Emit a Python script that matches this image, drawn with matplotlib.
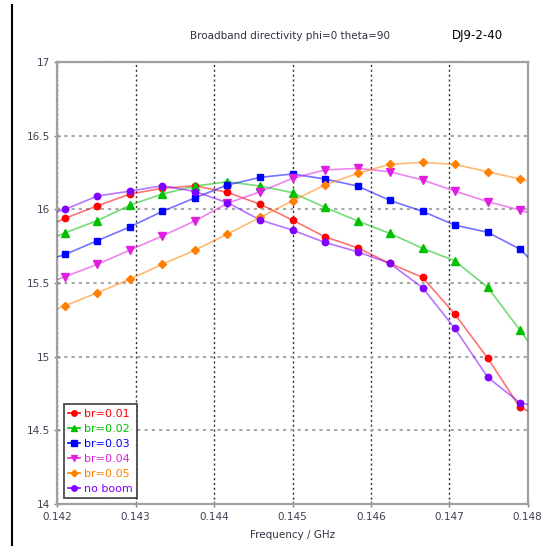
import matplotlib
matplotlib.use("Agg")
import matplotlib.pyplot as plt
from matplotlib.lines import Line2D

# Frequencies (GHz); first and last points lie just outside the visible range
freq = [0.14167, 0.1421, 0.14251, 0.14293, 0.14334, 0.14376, 0.14417, 0.14459,
        0.145, 0.14541, 0.14583, 0.14624, 0.14666, 0.14707, 0.14749, 0.1479, 0.14832]

br_001 = [15.84, 15.939, 16.024, 16.104, 16.143, 16.160, 16.115, 16.034, 15.927,
          15.814, 15.739, 15.633, 15.538, 15.289, 14.99, 14.656, 14.56]
br_002 = [15.75, 15.841, 15.923, 16.029, 16.104, 16.158, 16.187, 16.158, 16.113,
          16.014, 15.921, 15.837, 15.735, 15.651, 15.47, 15.181, 14.87]
br_003 = [15.62, 15.694, 15.787, 15.882, 15.986, 16.079, 16.165, 16.217, 16.240,
          16.206, 16.158, 16.061, 15.986, 15.893, 15.844, 15.730, 15.51]
br_004 = [15.46, 15.543, 15.627, 15.724, 15.819, 15.923, 16.041, 16.12, 16.21,
          16.267, 16.278, 16.255, 16.199, 16.124, 16.052, 15.995, 15.93]
br_005 = [15.26, 15.346, 15.434, 15.527, 15.627, 15.724, 15.832, 15.946, 16.058,
          16.165, 16.244, 16.305, 16.319, 16.305, 16.255, 16.206, 16.15]
no_boom = [15.93, 16.0, 16.09, 16.124, 16.16, 16.12, 16.045, 15.927, 15.859,
           15.776, 15.712, 15.633, 15.468, 15.192, 14.86, 14.687, 14.64]

labels = ["br=0.01", "br=0.02", "br=0.03", "br=0.04", "br=0.05", "no boom"]
series = [br_001, br_002, br_003, br_004, br_005, no_boom]
colors = ["#ff0000", "#00c000", "#0000ff", "#e020e0", "#ff8000", "#8000ff"]
markers = ["o", "^", "s", "v", "D", "o"]
msizes = [4.6, 5.6, 5.0, 5.6, 4.0, 4.6]

xticks = [0.142, 0.143, 0.144, 0.145, 0.146, 0.147, 0.148]
yticks = [14, 14.5, 15, 15.5, 16, 16.5, 17]

fig = plt.figure(figsize=(5.46, 5.5), dpi=100)
ax = fig.add_axes([0.105, 0.0836, 0.8615, 0.8037])

for y, c, m, ms in zip(series, colors, markers, msizes):
    ax.plot(freq, y, color=c, lw=1.2, alpha=0.55, zorder=3)
    ax.plot(freq, y, color=c, lw=0, marker=m, ms=ms, zorder=4)

ax.set_xlim(0.142, 0.148)
ax.set_ylim(14, 17)
ax.set_xticks(xticks)
ax.set_xticklabels([f"{v:.3f}" for v in xticks])
ax.set_yticks(yticks)
ax.set_yticklabels([f"{v:g}" for v in yticks])

ax.xaxis.grid(True, color="#303030", ls=(0, (1.5, 2)), lw=1.0)
ax.yaxis.grid(True, color="#a8a8a8", ls=(0, (1.5, 2)), lw=1.5)
ax.set_axisbelow(True)

for side in ["top", "right", "bottom", "left"]:
    ax.spines[side].set_color("#a0a0a0")
    ax.spines[side].set_linewidth(1.6)

ax.tick_params(direction="inout", length=5, width=1, color="#808080",
               labelsize=7.5, labelcolor="#404050", pad=3)

ax.set_xlabel("Frequency / GHz", fontsize=7.5, color="#303040", labelpad=6)

fig.text(0.348, 0.935, "Broadband directivity phi=0 theta=90", fontsize=7.5,
         color="#303040", va="center", ha="left")
fig.text(0.828, 0.935, "DJ9-2-40", fontsize=8.5, color="#000000",
         va="center", ha="left")

handles = [Line2D([0], [0], color=c, marker=m, ms=ms * 0.85, lw=1.2)
           for c, m, ms in zip(colors, markers, msizes)]
leg = fig.legend(handles, labels, loc="lower left",
                 bbox_to_anchor=(64 / 546, (550 - 498) / 550),
                 fontsize=8, frameon=True, fancybox=False, handlelength=1.0,
                 handletextpad=0.4, labelspacing=0.45, borderpad=0.4,
                 borderaxespad=0)
leg.get_frame().set_edgecolor("#202020")
leg.get_frame().set_linewidth(1.3)
for t, c in zip(leg.get_texts(), colors):
    t.set_color(c)

fig.add_artist(Line2D([12 / 546, 12 / 546], [5 / 550, 545 / 550],
                      color="black", lw=1.5, transform=fig.transFigure))

fig.savefig("out.png", dpi=100)
